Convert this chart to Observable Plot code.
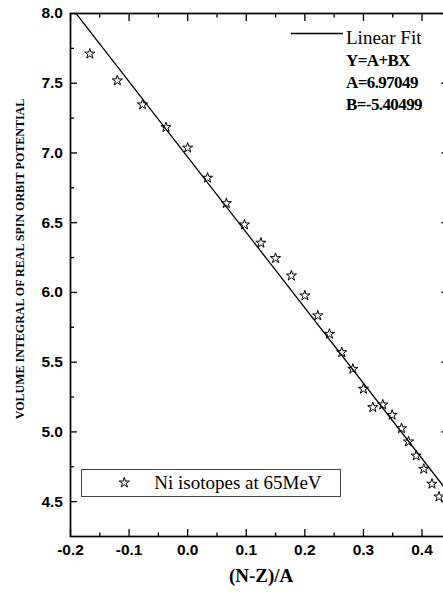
<!DOCTYPE html>
<html><head><meta charset="utf-8">
<script src="https://cdn.jsdelivr.net/npm/d3@7"></script>
<script src="https://cdn.jsdelivr.net/npm/@observablehq/plot@0.6"></script>
<style>
body{margin:0;background:#fff;}
#chart{position:relative;width:443px;height:594px;overflow:hidden;background:#fff;}
#chart svg{position:absolute;left:0;top:0;}
</style></head><body><div id="chart"></div>
<script>
// (N-Z)/A of Ni isotopes
const nzA = [-0.167,-0.120,-0.077,-0.037,0.000,0.034,0.066,0.097,0.125,0.150,0.177,0.200,0.222,0.242,0.263,0.282,0.300,0.316,0.333,0.349,0.365,0.377,0.390,0.403,0.417,0.429];
// volume integral of real spin orbit potential
const volInt = [7.711,7.519,7.347,7.184,7.037,6.821,6.639,6.486,6.355,6.245,6.120,5.977,5.834,5.702,5.570,5.451,5.308,5.176,5.195,5.121,5.025,4.930,4.829,4.734,4.627,4.535];
// linear fit parameters
const fitA = 6.97049, fitB = -5.40499;
const fitX = [-0.2, 0.444];
// ticks
const xMajor = [-0.2,-0.1,0.0,0.1,0.2,0.3,0.4];
const xMinor = [-0.15,-0.05,0.05,0.15,0.25,0.35];
const yMajor = [4.5,5.0,5.5,6.0,6.5,7.0,7.5,8.0];
const yMinor = [4.75,5.25,5.75,6.25,6.75,7.25,7.75];
const xLabel = "(N-Z)/A";
const yLabel = "VOLUME INTEGRAL OF REAL SPIN ORBIT POTENTIAL";
const seriesName = "Ni isotopes at 65MeV";
const fitLegend = ["Linear Fit","Y=A+BX","A=6.97049","B=-5.40499"];

const points = nzA.map((x,i)=>({x, y: volInt[i]}));
const fit = fitX.map(x=>({x, y: fitA + fitB*x}));

const sans = "'Liberation Sans', Arial, sans-serif";
const serif = "'Liberation Serif', 'Times New Roman', serif";
const fmt = d => (Math.abs(d) < 1e-9 ? 0 : d).toFixed(1);
const none = () => "";

const plot = Plot.plot({
  width: 443, height: 594,
  marginLeft: 70, marginRight: -4.3, marginTop: 13, marginBottom: 58,
  x: {domain: [-0.2, 0.444], label: null},
  y: {domain: [4.25, 8.0], label: null},
  style: {fontFamily: sans, fontSize: "15.5px", fontWeight: "bold", color: "black", background: "white"},
  marks: [
    Plot.axisX(xMajor, {anchor: "bottom", tickSize: -7, tickFormat: none, strokeWidth: 1.3, label: null}),
    Plot.axisX(xMinor, {anchor: "bottom", tickSize: -3.5, tickFormat: none, strokeWidth: 1.3, label: null}),
    Plot.axisX(xMajor, {anchor: "top", tickSize: -7, tickFormat: none, strokeWidth: 1.3, label: null}),
    Plot.axisX(xMinor, {anchor: "top", tickSize: -3.5, tickFormat: none, strokeWidth: 1.3, label: null}),
    Plot.axisY(yMajor, {anchor: "left", tickSize: -7, tickFormat: none, strokeWidth: 1.3, label: null}),
    Plot.axisY(yMinor, {anchor: "left", tickSize: -4, tickFormat: none, strokeWidth: 1.3, label: null}),
    Plot.axisY(yMajor, {anchor: "right", tickSize: -7, tickFormat: none, strokeWidth: 1.3, label: null}),
    Plot.axisX(xMajor, {anchor: "bottom", tickSize: 0, tickPadding: 7, tickFormat: fmt, fontSize: 15.5, fontWeight: "bold", fontFamily: sans, label: null}),
    Plot.axisY(yMajor, {anchor: "left", tickSize: 0, tickPadding: 7.5, tickFormat: fmt, fontSize: 15.5, fontWeight: "bold", fontFamily: sans, label: null}),
    Plot.frame({stroke: "black", strokeWidth: 1.7}),
    Plot.line(fit, {x: "x", y: "y", stroke: "black", strokeWidth: 1.3, clip: true}),
    Plot.dot(points, {x: "x", y: "y", symbol: "star", r: 3.2, fill: "none", stroke: "black", strokeWidth: 1}),
    Plot.text([xLabel], {frameAnchor: "bottom", dx: 2, dy: 45.5, text: d => d, fontFamily: serif, fontSize: 19, fontWeight: "bold"}),
    Plot.text([yLabel], {frameAnchor: "left", textAnchor: "middle", dx: -50, dy: -16, rotate: -90, text: d => d, fontFamily: serif, fontSize: 12, fontWeight: "bold"})
  ]
});
document.getElementById("chart").appendChild(plot);

// legends overlay
const ov = d3.select("#chart").append("svg").attr("width", 443).attr("height", 594)
  .style("font-family", serif);
ov.append("line").attr("x1", 291).attr("x2", 343).attr("y1", 33.5).attr("y2", 33.5)
  .attr("stroke", "black").attr("stroke-width", 1.3);
ov.append("text").attr("x", 346).attr("y", 43.5).attr("font-size", 19).text(fitLegend[0]);
[66, 88, 110].forEach((yy, i) => {
  ov.append("text").attr("x", 346).attr("y", yy).attr("font-size", 17).attr("font-weight", "bold")
    .attr("letter-spacing", "-0.6px").text(fitLegend[i+1]);
});
ov.append("rect").attr("x", 81.5).attr("y", 469.5).attr("width", 259).attr("height", 27)
  .attr("fill", "white").attr("stroke", "#444").attr("stroke-width", 1);
ov.append("path").attr("d", d3.symbol(d3.symbolStar, Math.PI * 3.2 * 3.2)())
  .attr("transform", "translate(124.3,482.7)").attr("fill", "none").attr("stroke", "black").attr("stroke-width", 1);
ov.append("text").attr("x", 154.3).attr("y", 489.3).attr("font-size", 19).text(seriesName);
</script>
</body></html>
